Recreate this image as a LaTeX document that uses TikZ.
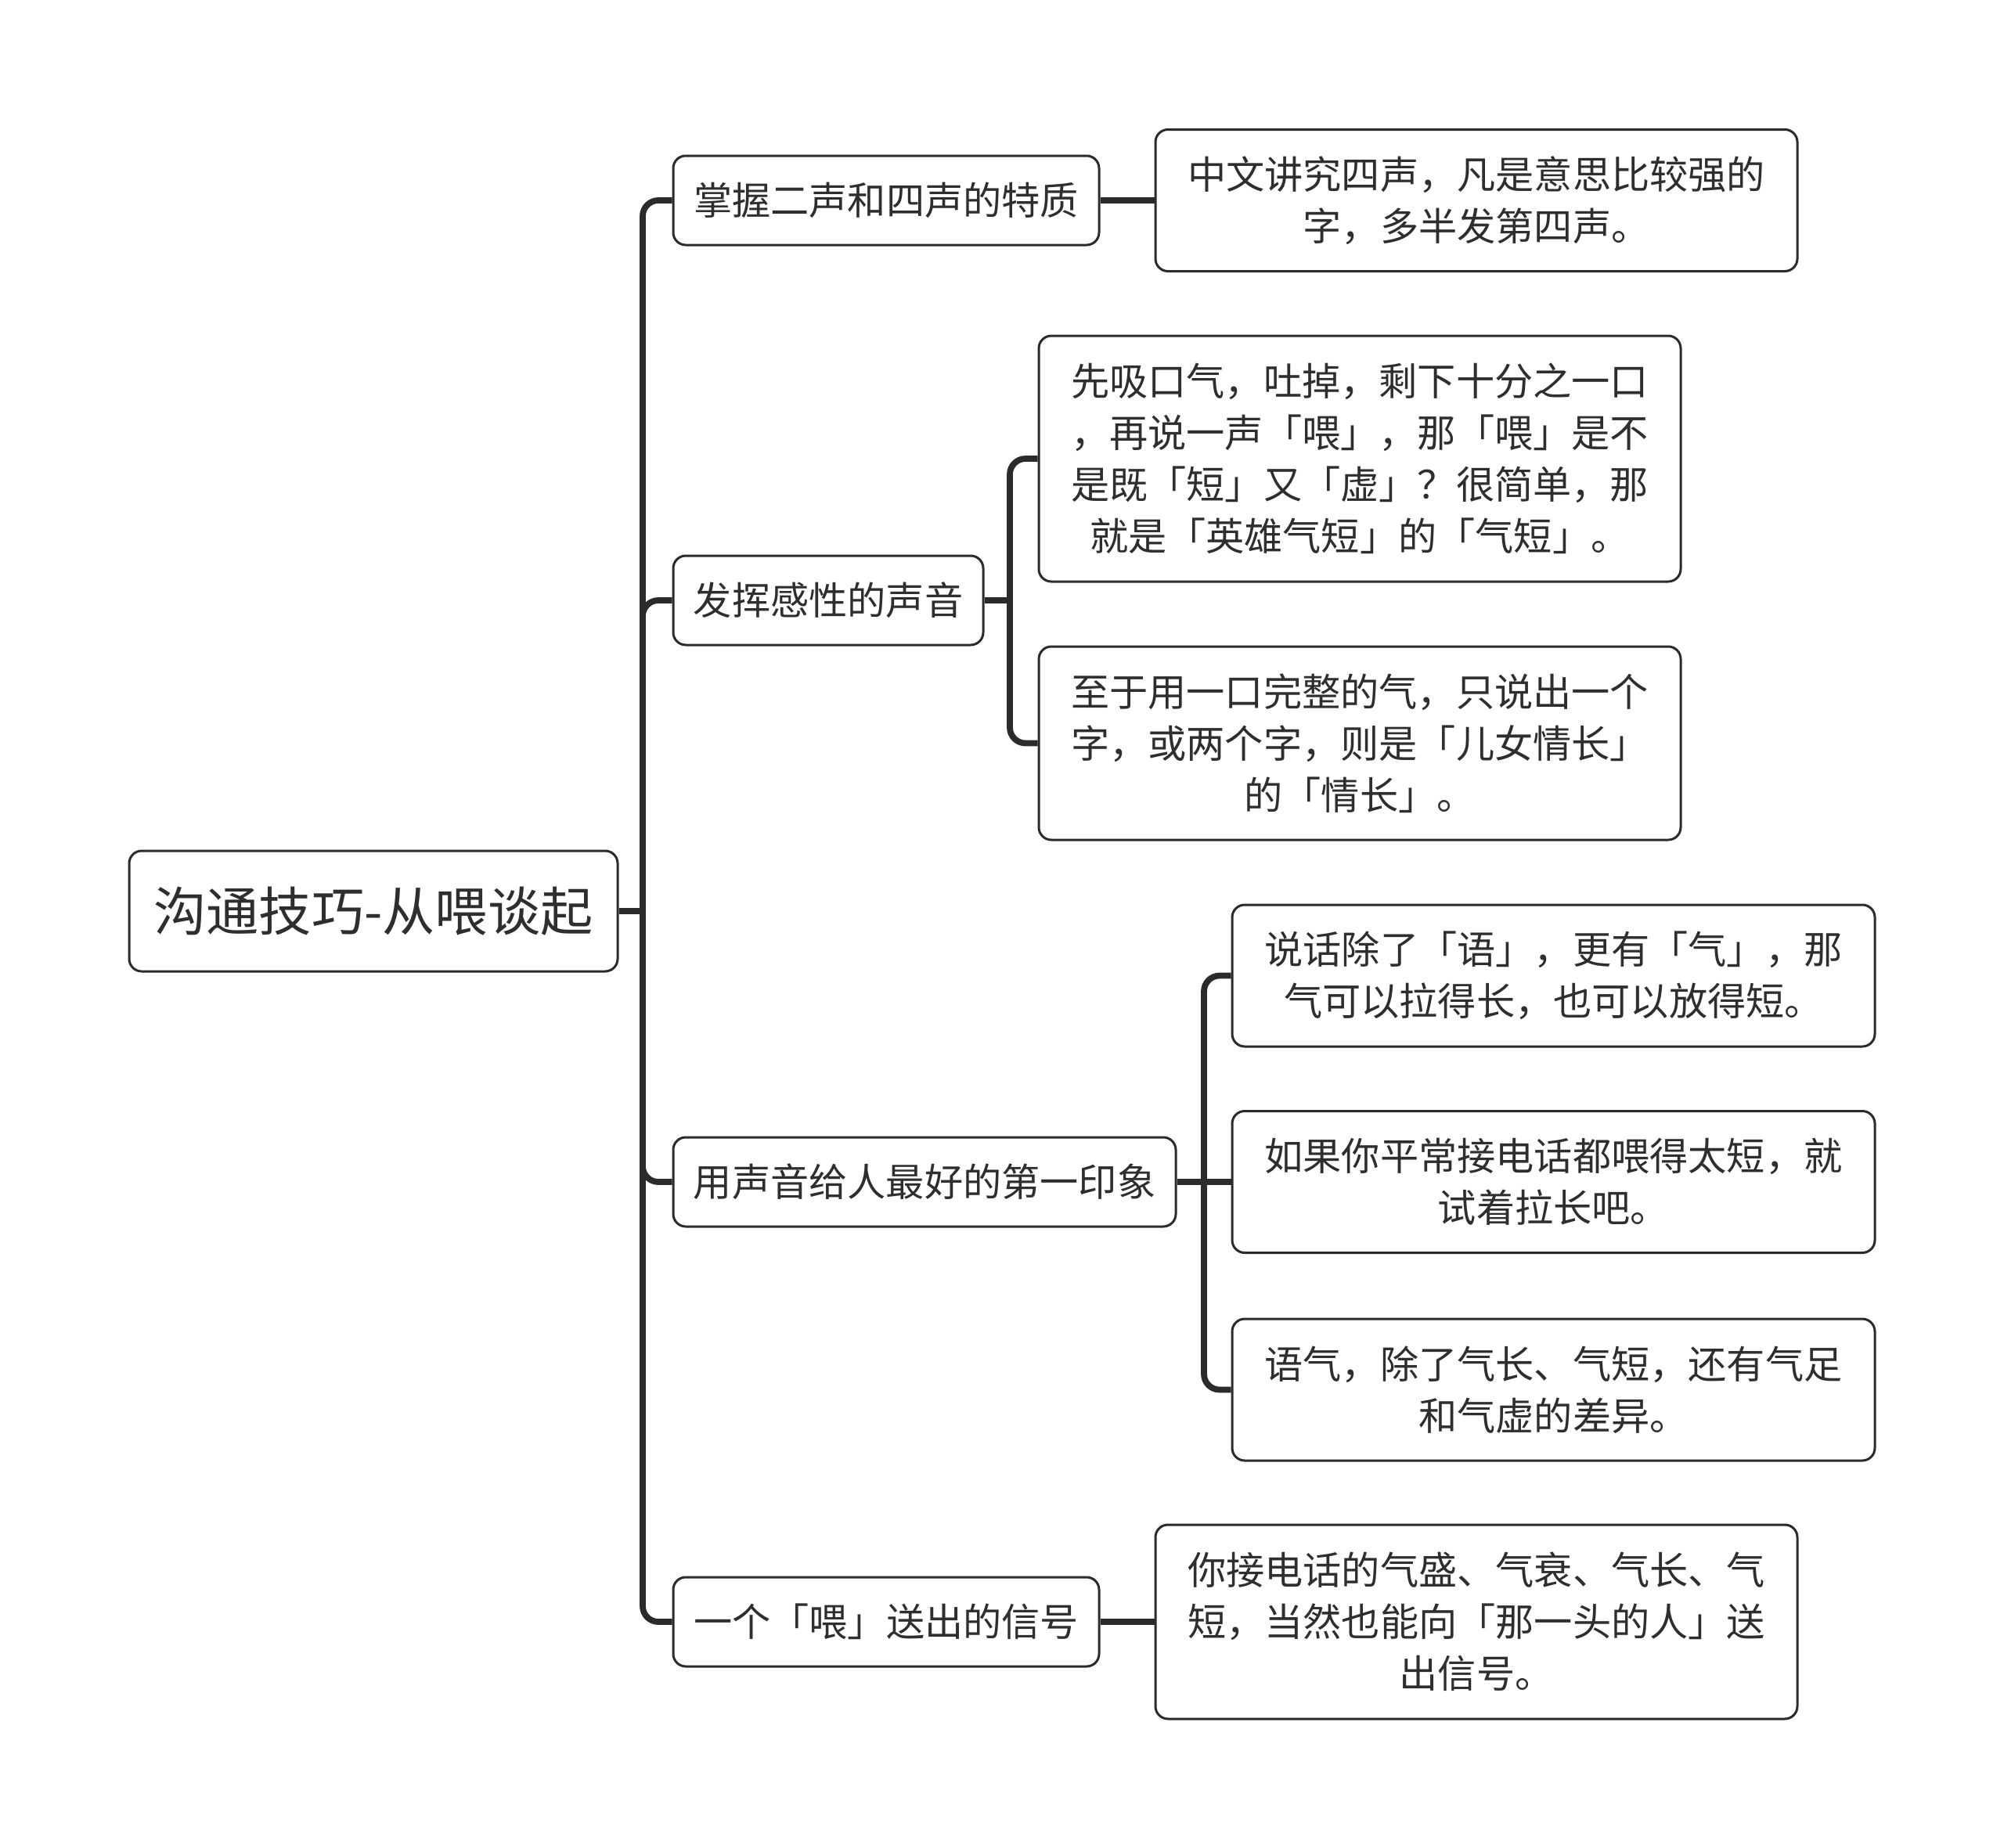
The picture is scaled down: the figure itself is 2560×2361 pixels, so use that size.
\documentclass[tikz,border=0pt]{standalone}
\usepackage{fontspec}
\setmainfont{Noto Sans CJK SC}
\definecolor{ln}{HTML}{2B2B2B}
\definecolor{tx}{HTML}{2E2E2E}
\tikzset{
  box/.style={draw=ln, line width=1.5pt, rounded corners=8pt, fill=white, text=tx,
    align=center, inner sep=0pt, font=\fontsize{24.6pt}{33pt}\selectfont},
  rootbox/.style={box, font=\fontsize{33.6pt}{40pt}\selectfont},
  conn/.style={draw=ln, line width=3.9pt, rounded corners=10pt},
}
\begin{document}
\begin{tikzpicture}[x=0.5pt,y=-0.5pt]
\useasboundingbox[fill=white] (0,0) rectangle (2560,2361);
% root
\node[rootbox, minimum width=312pt, minimum height=77pt] (root) at (477,1164) {沟通技巧-从喂谈起};
% level 1
\node[box, minimum width=272pt, minimum height=57pt] (La) at (1132,256) {掌握二声和四声的特质};
\node[box, minimum width=198pt, minimum height=57pt] (Lb) at (1058,767) {发挥感性的声音};
\node[box, minimum width=321pt, minimum height=57pt] (Lc) at (1181,1510) {用声音给人最好的第一印象};
\node[box, minimum width=272pt, minimum height=57pt] (Ld) at (1132,2072) {一个「喂」送出的信号};
% level 2
\node[box, minimum width=410pt, minimum height=90.5pt] (a1) at (1886,256) {中文讲究四声，凡是意思比较强的\\字，多半发第四声。};
\node[box, minimum width=410pt, minimum height=157pt] (b1) at (1737,586) {先吸口气，吐掉，剩下十分之一口\\，再说一声「喂」，那「喂」是不\\是既「短」又「虚」？很简单，那\\就是「英雄气短」的「气短」。};
\node[box, minimum width=410pt, minimum height=123.5pt] (b2) at (1737,949.5) {至于用一口完整的气，只说出一个\\字，或两个字，则是「儿女情长」\\的「情长」。};
\node[box, minimum width=410.5pt, minimum height=90.5pt] (c1) at (1984.5,1246.5) {说话除了「语」，更有「气」，那\\气可以拉得长，也可以放得短。};
\node[box, minimum width=410.5pt, minimum height=90.5pt] (c2) at (1984.5,1510) {如果你平常接电话都喂得太短，就\\试着拉长吧。};
\node[box, minimum width=410.5pt, minimum height=90.5pt] (c3) at (1984.5,1775.5) {语气，除了气长、气短，还有气足\\和气虚的差异。};
\node[box, minimum width=410pt, minimum height=124pt] (d1) at (1886,2072) {你接电话的气盛、气衰、气长、气\\短，当然也能向「那一头的人」送\\出信号。};
% connectors
\coordinate (j0) at (821,1164);
\coordinate (j2) at (1290,767);
\coordinate (j3) at (1538,1510);
\draw[conn] (root.east) -- (j0);
\draw[conn] (j0) |- (La.west);
\draw[conn] (j0) |- (Lb.west);
\draw[conn] (j0) |- (Lc.west);
\draw[conn] (j0) |- (Ld.west);
\draw[conn] (La.east) -- (a1.west);
\draw[conn] (Lb.east) -- (j2);
\draw[conn] (j2) |- (b1.west);
\draw[conn] (j2) |- (b2.west);
\draw[conn] (Lc.east) -- (j3);
\draw[conn] (j3) |- (c1.west);
\draw[conn] (j3) -- (c2.west);
\draw[conn] (j3) |- (c3.west);
\draw[conn] (Ld.east) -- (d1.west);
\end{tikzpicture}
\end{document}
